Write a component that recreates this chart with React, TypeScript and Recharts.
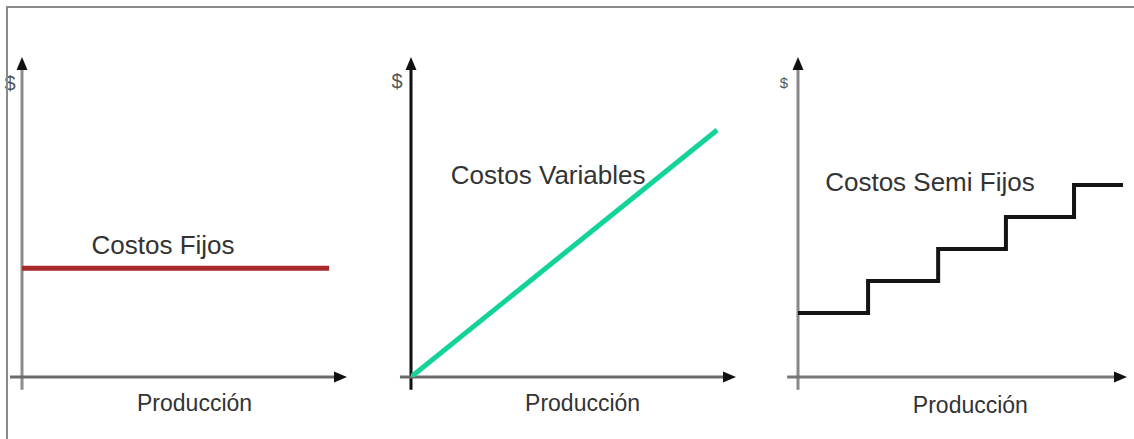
import { LineChart, Line, XAxis, YAxis, ReferenceLine, ReferenceDot } from 'recharts';

// Costos Fijos (panel 1)
const fixedX = [0, 9.45];
const fixedY = [3.4, 3.4];

// Costos Variables (panel 2)
const variableX = [0, 9.42];
const variableY = [0, 7.72];

// Costos Semi Fijos (panel 3)
const semiX = [0, 2.13, 4.26, 6.32, 8.39, 9.88];
const semiY = [2, 3, 4, 5, 6, 6];

const titles = ['Costos Fijos', 'Costos Variables', 'Costos Semi Fijos'];
const xLabel = 'Producción';
const yLabel = '$';

const FONT = '"Liberation Sans", Arial, sans-serif';

const zip = (xs: number[], ys: number[]) => xs.map((x, i) => ({ x, y: ys[i] }));

// axis line with a black arrow head at the far end
const Arrow = (props: any) => {
  const { x1, y1, x2, y2, color, w } = props;
  const a = Math.atan2(y2 - y1, x2 - x1);
  const len = 13;
  const half = 5.5;
  const bx = x2 - len * Math.cos(a);
  const by = y2 - len * Math.sin(a);
  const pts = [
    `${x2},${y2}`,
    `${bx - half * Math.sin(a)},${by + half * Math.cos(a)}`,
    `${bx + half * Math.sin(a)},${by - half * Math.cos(a)}`,
  ].join(' ');
  return (
    <g>
      <line x1={x1} y1={y1} x2={bx + 2 * Math.cos(a)} y2={by + 2 * Math.sin(a)} stroke={color} strokeWidth={w} />
      <polygon points={pts} fill="#111" />
    </g>
  );
};

interface PanelProps {
  left: number;
  width: number;
  margin: { left: number; right: number };
  data: { x: number; y: number }[];
  type: 'linear' | 'stepAfter';
  stroke: string;
  strokeWidth: number;
  title: string;
  titlePos: [number, number];
  xLabelPos: [number, number];
  yLabelPos: [number, number];
  yLabelSize: number;
  xAxisColor: string;
  yAxisColor: string;
  xStart: number;
}

function Panel(p: PanelProps) {
  return (
    <div style={{ position: 'absolute', left: p.left, top: 0 }}>
      <LineChart
        width={p.width}
        height={439}
        data={p.data}
        margin={{ top: 57, bottom: 62, left: p.margin.left, right: p.margin.right }}
      >
        <XAxis type="number" dataKey="x" domain={[0, 10]} hide allowDataOverflow />
        <YAxis type="number" domain={[0, 10]} hide allowDataOverflow />
        <ReferenceLine
          segment={[{ x: 0, y: -0.4 }, { x: 0, y: 10 }]}
          ifOverflow="visible"
          shape={(s: any) => <Arrow {...s} color={p.yAxisColor} w={3} />}
        />
        <ReferenceLine
          segment={[{ x: p.xStart, y: 0 }, { x: 10, y: 0 }]}
          ifOverflow="visible"
          shape={(s: any) => <Arrow {...s} color={p.xAxisColor} w={3} />}
        />
        <Line
          type={p.type}
          dataKey="y"
          stroke={p.stroke}
          strokeWidth={p.strokeWidth}
          dot={false}
          activeDot={false}
          isAnimationActive={false}
        />
        <ReferenceDot
          x={p.titlePos[0]}
          y={p.titlePos[1]}
          r={0}
          ifOverflow="visible"
          label={{ value: p.title, position: 'center', fontSize: 26, fill: '#333', fontFamily: FONT }}
        />
        <ReferenceDot
          x={p.xLabelPos[0]}
          y={p.xLabelPos[1]}
          r={0}
          ifOverflow="visible"
          label={{ value: xLabel, position: 'center', fontSize: 23, fill: '#333', fontFamily: FONT }}
        />
        <ReferenceDot
          x={p.yLabelPos[0]}
          y={p.yLabelPos[1]}
          r={0}
          ifOverflow="visible"
          label={{ value: yLabel, position: 'center', fontSize: p.yLabelSize, fill: '#555', fontFamily: FONT }}
        />
      </LineChart>
    </div>
  );
}

export default function App() {
  return (
    <div
      style={{
        position: 'fixed',
        left: 0,
        top: 0,
        width: 1134,
        height: 439,
        background: '#fff',
        overflow: 'hidden',
        fontFamily: FONT,
      }}
    >
      <Panel
        left={0}
        width={370}
        margin={{ left: 22, right: 23 }}
        data={zip(fixedX, fixedY)}
        type="linear"
        stroke="#a8282c"
        strokeWidth={5}
        title={titles[0]}
        titlePos={[4.34, 4.12]}
        xLabelPos={[5.31, -0.81]}
        yLabelPos={[-0.37, 9.2]}
        yLabelSize={20}
        xAxisColor="#6a6a6a"
        yAxisColor="#8c8c8c"
        xStart={-0.37}
      />
      <Panel
        left={375}
        width={375}
        margin={{ left: 36, right: 14 }}
        data={zip(variableX, variableY)}
        type="linear"
        stroke="#12d39a"
        strokeWidth={5}
        title={titles[1]}
        titlePos={[4.22, 6.31]}
        xLabelPos={[5.28, -0.81]}
        yLabelPos={[-0.43, 9.25]}
        yLabelSize={20}
        xAxisColor="#6a6a6a"
        yAxisColor="#111"
        xStart={-0.34}
      />
      <Panel
        left={755}
        width={379}
        margin={{ left: 43, right: 7 }}
        data={zip(semiX, semiY)}
        type="stepAfter"
        stroke="#141414"
        strokeWidth={4}
        title={titles[2]}
        titlePos={[4.01, 6.09]}
        xLabelPos={[5.24, -0.87]}
        yLabelPos={[-0.43, 9.19]}
        yLabelSize={15}
        xAxisColor="#777"
        yAxisColor="#888"
        xStart={-0.33}
      />
      <div
        style={{
          position: 'absolute',
          left: 6,
          top: 6,
          width: 1130,
          height: 440,
          borderTop: '2px solid #8a8a8a',
          borderLeft: '2px solid #8a8a8a',
          background: 'transparent',
          pointerEvents: 'none',
        }}
      />
    </div>
  );
}
